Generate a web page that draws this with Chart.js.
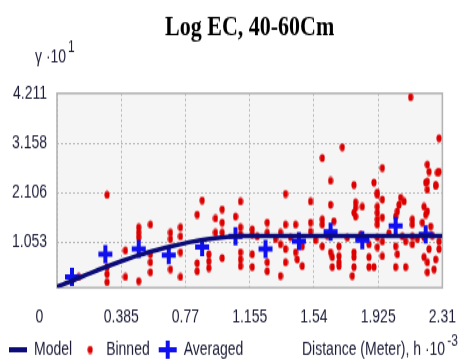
<!DOCTYPE html>
<html><head><meta charset="utf-8">
<script src="https://cdn.jsdelivr.net/npm/chart.js@4.4.1/dist/chart.umd.min.js"></script>
<style>
html{margin:0;padding:0;background:#fff;overflow:hidden;}
body{margin:0;padding:0;background:#fff;width:470px;height:364px;}
#wrap{width:470px;height:280px;transform:scaleY(1.3);transform-origin:0 0;}
</style></head><body>
<div id="wrap"><canvas id="c" width="470" height="280"></canvas></div>
<script>
const chartTitle = 'Log EC, 40-60Cm';
const xTickValues = [0, 0.385, 0.77, 1.155, 1.54, 1.925, 2.31];
const xTickLabels = ['0', '0.385', '0.77', '1.155', '1.54', '1.925', '2.31'];
const yTickValues = [1.053, 2.106, 3.158, 4.211];
const yTickLabels = ['1.053', '2.106', '3.158', '4.211'];

const modelX = [0, 0.1, 0.2, 0.3, 0.4, 0.5, 0.6, 0.7, 0.8, 0.9, 1.0, 1.1, 1.155, 1.54, 1.925, 2.31];
const modelY = [0.11, 0.25, 0.40, 0.54, 0.67, 0.79, 0.89, 0.98, 1.06, 1.12, 1.16, 1.185, 1.19, 1.19, 1.19, 1.19];

const binnedX = [0.13,0.30,0.30,0.30,0.30,0.41,0.41,0.49,0.49,0.49,0.49,0.56,0.56,0.56,0.56,0.68,0.68,0.68,0.74,0.74,
0.74,0.74,0.84,0.84,0.84,0.87,0.91,0.91,0.91,0.95,0.99,0.99,0.95,0.99,0.99,1.07,1.10,1.10,1.10,1.10,
1.10,1.10,1.17,1.17,1.17,1.17,1.26,1.26,1.26,1.26,1.34,1.34,1.37,1.37,1.34,1.37,1.37,1.43,1.43,1.44,
1.47,1.52,1.52,1.52,1.59,1.59,1.59,1.59,1.64,1.64,1.64,1.65,1.65,1.69,1.71,1.78,1.90,1.92,1.95,1.79,
1.79,1.78,1.79,1.83,1.92,1.92,1.92,1.92,2.06,2.08,2.05,2.04,2.03,2.13,2.13,2.20,2.22,2.21,2.21,2.27,
2.28,2.23,1.69,1.69,1.69,1.78,1.78,1.77,1.78,1.87,1.87,1.87,1.90,1.92,1.92,1.95,1.95,2.03,2.04,2.03,
2.09,2.07,2.09,2.13,2.13,2.20,2.23,2.20,2.22,2.26,2.22,2.27,2.29,2.29,2.12,2.29,2.22,2.29,2.22,2.22,
2.27,1.95,1.92,1.66,1.95,2.19,2.24,1.47,1.20,1.31,1.40,1.55,1.62,1.74,1.82,1.99,2.16,2.25];
const binnedY = [0.32,2.06,0.53,0.38,0.21,0.88,0.32,1.37,1.26,1.16,0.23,1.43,0.80,0.63,0.42,1.26,1.12,0.48,1.37,1.18,
0.84,0.32,1.64,0.61,0.44,1.94,0.80,0.65,0.51,1.56,1.75,1.47,1.26,1.26,0.72,1.60,1.92,1.37,1.22,0.84,
0.69,0.55,1.33,1.22,0.80,0.53,1.47,1.26,0.63,0.44,1.26,1.01,0.91,0.63,0.34,2.08,1.43,1.43,0.84,0.69,
0.55,1.92,1.47,1.28,2.84,1.54,1.43,0.97,2.36,1.85,0.84,0.74,0.53,0.55,3.07,2.27,2.32,2.06,1.96,1.90,
1.79,1.68,1.60,1.81,1.81,1.68,1.54,1.43,2.00,1.92,1.85,1.71,1.60,1.54,1.43,1.81,1.71,1.64,2.32,2.27,
2.53,2.55,0.97,0.76,0.63,0.84,0.74,0.34,0.53,1.01,0.74,0.53,0.53,1.16,0.95,1.07,0.76,0.97,0.80,0.53,
0.53,1.18,1.07,1.18,1.01,1.16,0.91,0.74,0.63,0.48,0.42,0.69,1.07,0.91,4.13,3.26,2.70,2.55,2.34,2.17,
2.25,2.63,2.11,1.50,1.58,1.47,1.39,0.97,1.18,1.12,1.16,1.10,1.20,1.15,1.22,1.25,1.12,1.20];

const averagedX = [0.09, 0.29, 0.49, 0.67, 0.87, 1.07, 1.25, 1.45, 1.64, 1.83, 2.03, 2.21];
const averagedY = [0.32, 0.80, 0.91, 0.78, 0.95, 1.18, 0.91, 1.08, 1.28, 1.10, 1.40, 1.22];

const textColor = '#1c1c38';
const tickFont = {family: 'Liberation Sans', size: 14};

function makeDot() {
  const c = document.createElement('canvas');
  c.width = 6; c.height = 7;
  const g = c.getContext('2d');
  g.fillStyle = '#dd0000';
  g.beginPath();
  g.ellipse(3, 3.5, 2.6, 3.1, 0, 0, Math.PI * 2);
  g.fill();
  return c;
}
const dotImg = makeDot();

const zip = (xs, ys) => xs.map((x, i) => ({x: x, y: ys[i]}));

const plotDeco = {
  id: 'plotDeco',
  beforeDraw(chart) {
    const {ctx, chartArea: a} = chart;
    ctx.save();
    ctx.fillStyle = '#ffffff';
    ctx.fillRect(0, 0, chart.width, chart.height);
    ctx.fillStyle = '#f5f5f5';
    ctx.fillRect(a.left, a.top, a.right - a.left, a.bottom - a.top);
    ctx.restore();
  },
  beforeDatasetsDraw(chart) {
    const {ctx, chartArea: a} = chart;
    ctx.save();
    ctx.strokeStyle = '#b4b4b4';
    ctx.lineWidth = 1.6;
    ctx.strokeRect(a.left, a.top, a.right - a.left, a.bottom - a.top);
    ctx.restore();
  },
  afterDraw(chart) {
    const ctx = chart.ctx;
    ctx.save();
    ctx.fillStyle = textColor;
    ctx.textBaseline = 'middle';
    ctx.textAlign = 'left';
    ctx.font = '14px "Liberation Sans"';
    const yt = '\u03b3 \u00b710';
    ctx.fillText(yt, 35, 44);
    const w1 = ctx.measureText(yt).width;
    ctx.font = '12px "Liberation Sans"';
    ctx.fillText('1', 35 + w1 + 2, 37);
    ctx.font = '14px "Liberation Sans"';
    const xt = 'Distance (Meter), h \u00b710';
    ctx.fillText(xt, 302, 269);
    const w2 = ctx.measureText(xt).width;
    ctx.font = '12px "Liberation Sans"';
    ctx.fillText('-3', 302 + w2 + 2, 263);
    ctx.restore();
  }
};

new Chart(document.getElementById('c'), {
  type: 'scatter',
  data: {
    datasets: [
      {
        label: 'Model',
        data: zip(modelX, modelY),
        showLine: true,
        borderColor: '#0c0c78',
        backgroundColor: '#0c0c78',
        borderWidth: 3.5,
        cubicInterpolationMode: 'monotone',
        pointRadius: 0,
        pointHoverRadius: 0,
        pointStyle: 'line',
        pointBorderWidth: 4,
        pointBorderColor: '#0c0c78',
        order: 0
      },
      {
        label: 'Binned',
        data: zip(binnedX, binnedY),
        pointStyle: dotImg,
        pointRadius: 3,
        backgroundColor: '#dd0000',
        borderColor: '#dd0000',
        order: 2
      },
      {
        label: 'Averaged',
        data: zip(averagedX, averagedY),
        pointStyle: 'cross',
        pointRadius: 7,
        pointBorderWidth: 4,
        borderColor: '#1010ee',
        backgroundColor: '#1010ee',
        order: 1
      }
    ]
  },
  options: {
    responsive: false,
    animation: false,
    devicePixelRatio: 1,
    layout: {padding: {left: 0, right: 22.5, top: 0, bottom: -6}},
    plugins: {
      title: {
        display: true,
        fullSize: false,
        text: chartTitle,
        color: '#000000',
        font: {family: 'Liberation Serif', size: 22, weight: 'bold'},
        padding: {top: 8, bottom: 37.4}
      },
      legend: {
        display: true,
        position: 'bottom',
        align: 'start',
        labels: {
          usePointStyle: true,
          pointStyleWidth: 18,
          boxHeight: 10,
          padding: 9,
          color: textColor,
          font: tickFont,
          sort: (a, b) => a.datasetIndex - b.datasetIndex
        }
      },
      tooltip: {enabled: false}
    },
    scales: {
      x: {
        type: 'linear',
        min: 0,
        max: 2.31,
        afterBuildTicks: s => { s.ticks = xTickValues.map(v => ({value: v})); },
        afterFit: s => { s.height = 31.7; },
        ticks: {
          autoSkip: false,
          maxRotation: 0,
          padding: 14,
          color: textColor,
          font: tickFont,
          callback: (v, i) => i === 0 ? xTickLabels[0] + '\u00a0'.repeat(9) : xTickLabels[i]
        },
        grid: {color: '#b8b8b8', lineWidth: 1, drawTicks: false},
        border: {display: false, dash: [2, 2]}
      },
      y: {
        type: 'linear',
        min: 0.09,
        max: 4.211,
        afterBuildTicks: s => { s.ticks = yTickValues.map(v => ({value: v})); },
        afterFit: s => { s.width = 57; },
        ticks: {
          autoSkip: false,
          padding: 10,
          color: textColor,
          font: tickFont,
          callback: (v, i) => yTickLabels[i]
        },
        grid: {color: '#b8b8b8', lineWidth: 1, drawTicks: false},
        border: {display: false, dash: [2, 2]}
      }
    }
  },
  plugins: [plotDeco]
});
</script>
</body></html>
